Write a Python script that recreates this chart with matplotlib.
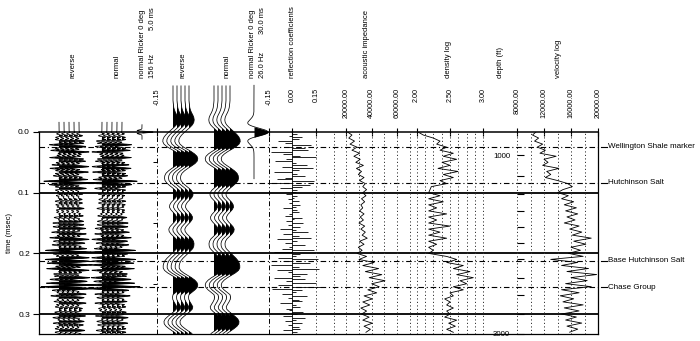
import numpy as np
import matplotlib
matplotlib.use("Agg")
import matplotlib.pyplot as plt
from matplotlib.transforms import blended_transform_factory

plt.rcParams['font.family'] = ['Liberation Sans', 'DejaVu Sans']
plt.rcParams['axes.linewidth'] = 0.8

# ---------------- well-log data (two-way time sampling) ----------------
log_t0, log_dt = 0.0, 0.005
impedance = [21000, 24500, 22000, 26500, 23000, 28500, 24500, 30500, 26000, 31000,
             27500, 33500, 28000, 32000, 29500, 34000, 30500, 35000, 33000, 36000,
             33000, 35500, 32000, 34500, 31500, 33000, 30500, 34000, 31000, 33500,
             30000, 34500, 31500, 35000, 32500, 36500, 30500, 34000, 29500, 32500,
             28500, 36000, 30000, 42000, 33000, 45500, 35000, 48000, 38000, 50500,
             40000, 46000, 37000, 44000, 34000, 40500, 33000, 38500, 31500, 36000,
             32000, 38000, 33000, 40500, 34000, 39000, 35500]
density = [2.02, 2.10, 2.25, 2.35, 2.30, 2.45, 2.35, 2.55, 2.40, 2.60,
           2.38, 2.50, 2.32, 2.62, 2.40, 2.55, 2.35, 2.45, 2.22, 2.20,
           2.18, 2.35, 2.18, 2.40, 2.18, 2.30, 2.18, 2.45, 2.18, 2.30,
           2.18, 2.50, 2.18, 2.35, 2.18, 2.45, 2.18, 2.30, 2.18, 2.25,
           2.18, 2.45, 2.60, 2.45, 2.70, 2.55, 2.80, 2.60, 2.85, 2.65,
           2.75, 2.55, 2.70, 2.50, 2.55, 2.42, 2.50, 2.45, 2.55, 2.45,
           2.50, 2.42, 2.60, 2.48, 2.58, 2.45, 2.55]
velocity = [10800, 10300, 11200, 10600, 11800, 11000, 12200, 11400, 13800, 12000,
            12600, 11800, 14200, 12400, 13000, 12200, 14000, 15500, 16200, 14800,
            14000, 15600, 14600, 16400, 15000, 16800, 15200, 17000, 15400, 16600,
            15000, 17200, 15800, 17600, 16200, 19000, 16400, 18200, 16000, 17400,
            15600, 17800, 13000, 17000, 14600, 18600, 15400, 19800, 16000, 18400,
            15200, 19000, 14600, 17200, 14400, 16400, 14800, 17800, 15000, 17200,
            14600, 16800, 15200, 17600, 15400, 17000, 15800]

# reflection coefficient series (3 ms sampling from t = 0)
rc_dt = 0.003
refl_coef = [0.00, 0.03, -0.02, 0.06, 0.04, -0.09, -0.05, 0.12, -0.03, 0.08,
             0.10, -0.14, -0.06, 0.05, 0.15, -0.04, -0.11, 0.02, 0.09, -0.07,
             0.13, 0.04, -0.12, 0.03, 0.08, -0.05, -0.10, 0.14, -0.16, 0.11,
             0.06, -0.08, 0.03, 0.02, -0.04, 0.03, 0.01, -0.03, 0.04, -0.02,
             0.05, 0.02, -0.06, 0.03, 0.04, -0.02, -0.05, 0.06, 0.01, -0.04,
             0.07, -0.03, 0.05, -0.08, 0.02, 0.10, -0.06, 0.04, 0.12, -0.10,
             0.03, -0.05, 0.08, -0.02, -0.07, 0.14, -0.12, 0.05, 0.02, -0.09,
             0.16, -0.06, 0.11, -0.14, 0.04, 0.17, -0.10, -0.03, 0.09, 0.05,
             -0.12, 0.08, -0.04, 0.15, -0.09, 0.20, -0.13, 0.06, 0.02, -0.07,
             0.09, -0.03, 0.04, 0.06, -0.08, 0.02, 0.05, -0.04, -0.02, 0.07,
             0.03, -0.06, 0.08, 0.02, -0.05, 0.06, -0.03, 0.04, 0.05, -0.06,
             0.03, -0.02]

# low-frequency (26 Hz) normal-polarity synthetic trace
lf_t0, lf_dt = -0.076, 0.004
lf_normal = [0.00, 0.00, 0.00, 0.00, 0.00, 0.00, 0.00,
             -0.02, -0.05, -0.08, -0.15, -0.25, -0.38, -0.48, -0.52, -0.48, -0.35, -0.12, 0.15,
             0.42, 0.68, 0.88, 1.00, 1.02, 0.90, 0.62, 0.22, -0.20, -0.55,
             -0.80, -0.88, -0.82, -0.60, -0.25, 0.12, 0.45, 0.70, 0.82, 0.85,
             0.80, 0.62, 0.35, 0.05, -0.22, -0.38, -0.40, -0.28, -0.05, 0.18,
             0.32, 0.35, 0.22, 0.00, -0.22, -0.35, -0.32, -0.15, 0.08, 0.30,
             0.42, 0.38, 0.20, -0.05, -0.30, -0.45, -0.50, -0.48, -0.38, -0.15,
             0.10, 0.35, 0.60, 0.80, 0.92, 0.98, 0.98, 0.85, 0.55, 0.15,
             -0.25, -0.58, -0.80, -0.88, -0.82, -0.60, -0.30, 0.00, 0.05, 0.02,
             -0.10, -0.25, -0.38, -0.32, -0.08, 0.22, 0.52, 0.78, 0.90, 0.88,
             0.70, 0.40, 0.05, -0.30, -0.55]

hf_freq_hz = 156.0
lf_freq_hz = 26.0

marker_names = ["Wellington Shale marker", "Hutchinson Salt",
                "Base Hutchinson Salt", "Chase Group"]
marker_times = [0.024, 0.084, 0.212, 0.256]

depth_ft = [1000, 1200, 1400, 1600, 1800, 2000, 2200, 2400, 2600, 2800, 3000]
depth_time = [0.038, 0.072, 0.103, 0.130, 0.157, 0.183, 0.210, 0.240, 0.268, 0.300, 0.333]
depth_labelled = [1000, 3000]

time_ticks = [0.0, 0.1, 0.2, 0.3]
rc_ticks = [-0.15, 0.00, 0.15]
imp_ticks = [20000, 40000, 60000]
den_ticks = [2.00, 2.50, 3.00]
vel_ticks = [8000, 12000, 16000, 20000]

# ---------------- derived sample axes ----------------
log_time = log_t0 + log_dt * np.arange(len(impedance))
rc_time = rc_dt * np.arange(len(refl_coef))
lf_time = lf_t0 + lf_dt * np.arange(len(lf_normal))
lf_normal = np.array(lf_normal)


def ricker(t, f):
    a = (np.pi * f * t) ** 2
    return (1 - 2 * a) * np.exp(-a)


T_MAX = 0.3328
hf_time = np.arange(-0.016, T_MAX, 0.0002)
hf_normal = np.zeros_like(hf_time)
for tk, r in zip(rc_time, refl_coef):
    hf_normal += r * ricker(hf_time - tk, hf_freq_hz)
hf_normal /= np.abs(hf_normal).max()

# ---------------- layout (pixel frame of a 700 x 341 canvas) ----------------
W, H = 700, 341
Y_TOP, Y_BOT = 132, 334
X_LEFT, X_RIGHT = 39, 598
fig = plt.figure(figsize=(W / 100, H / 100), dpi=100)

DOT = (0, (1.2, 2.4))
DASHDOT = (0, (5, 2.5, 1, 2.5))
FS_TICK = 5.2
FS_HEAD = 5.5


def add_track(x0, x1, xlim):
    ax = fig.add_axes([x0 / W, 1 - Y_BOT / H, (x1 - x0) / W, (Y_BOT - Y_TOP) / H])
    ax.set_xlim(*xlim)
    ax.set_ylim(T_MAX, 0)
    ax.patch.set_visible(False)
    for sp in ax.spines.values():
        sp.set_visible(False)
    ax.set_xticks([])
    ax.set_yticks([])
    return ax


def top_ticks(ax, ticks, labels):
    ax.xaxis.set_ticks_position('top')
    ax.set_xticks(ticks, labels, rotation=90, va='top', ha='center', fontsize=FS_TICK)
    ax.tick_params(axis='x', top=True, labeltop=True, bottom=False, labelbottom=False,
                   direction='inout', length=6, width=0.8, pad=28.5)


def wiggle(ax, t, amp, base, gain):
    x = base + gain * amp
    ax.plot(x, t, color='k', lw=0.55, clip_on=False, zorder=3)
    ax.fill_betweenx(t, base, x, where=x > base, interpolate=True,
                     color='k', lw=0, clip_on=False, zorder=3)


# outer frame and time axis
frame = fig.add_axes([X_LEFT / W, 1 - Y_BOT / H, (X_RIGHT - X_LEFT) / W, (Y_BOT - Y_TOP) / H])
frame.set_xlim(0, 1)
frame.set_ylim(T_MAX, 0)
frame.set_xticks([])
frame.set_yticks(time_ticks, [f"{v:.1f}" for v in time_ticks])
frame.tick_params(axis='y', length=4.5, width=0.8, pad=2, labelsize=6)
frame.set_ylabel("time (msec)", fontsize=FS_HEAD, labelpad=4)
for sp in frame.spines.values():
    sp.set_linewidth(0.9)
frame.spines['top'].set_linewidth(1.1)
for t in time_ticks[1:]:
    frame.axhline(t, color='k', lw=1.3, zorder=4)

fx = lambda px: (px - X_LEFT) / (X_RIGHT - X_LEFT)
blend = blended_transform_factory(frame.transAxes, frame.transData)
for name, t in zip(marker_names, marker_times):
    frame.plot([0, fx(601)], [t, t], color='k', lw=0.8, ls=DASHDOT,
               transform=blend, clip_on=False, zorder=4)
    frame.plot([fx(601), fx(607)], [t, t], color='k', lw=0.8,
               transform=blend, clip_on=False, zorder=4)
    frame.text(fx(608), t, name, transform=blend, fontsize=5.8,
               ha='left', va='center')

# --- high-frequency synthetics (pixel-offset units) ---
axA = add_track(X_LEFT, 157, (0, 118))
for base in [20, 25, 30, 35, 40]:
    wiggle(axA, hf_time, -hf_normal, base, 18)
for base in [63, 68, 73, 78, 83]:
    wiggle(axA, hf_time, hf_normal, base, 18)
hw_t = np.linspace(-0.012, 0.012, 200)
wiggle(axA, hw_t, ricker(hw_t, hf_freq_hz), 103, 11)

# --- low-frequency synthetics (amplitude units) ---
PX_AMP = 0.15 / 23.5
axB = add_track(157, 269, (-0.15, -0.15 + 112 * PX_AMP))
top_ticks(axB, [-0.15], ["-0.15"])
axB.axvline(-0.15, color='k', lw=0.7, ls=DASHDOT)
axB.set_yticks([0.05, 0.15, 0.25])
axB.tick_params(axis='y', left=True, labelleft=False, direction='out', length=3, width=0.7)
bx = lambda px: -0.15 + (px - 157) * PX_AMP
keep = lf_time <= T_MAX
for px in [173, 177, 181, 185, 189]:
    wiggle(axB, lf_time[keep], -lf_normal[keep], bx(px), 10 * PX_AMP)
for px in [214, 218, 222, 226, 230]:
    wiggle(axB, lf_time[keep], lf_normal[keep], bx(px), 10 * PX_AMP)
lw_t = np.linspace(-0.077, 0.077, 400)
wiggle(axB, lw_t, ricker(lw_t, lf_freq_hz), bx(254), 14 * PX_AMP)

# --- reflection coefficients ---
axC = add_track(269, 331, (-0.15, 0.246))
top_ticks(axC, rc_ticks, [f"{v:.2f}" for v in rc_ticks])
axC.axvline(-0.15, color='k', lw=0.7, ls=DASHDOT)
axC.axvline(0.15, color='0.2', lw=0.7, ls=DOT)
axC.axvline(0.0, color='k', lw=0.6)
axC.hlines(rc_time, 0, refl_coef, color='k', lw=0.6)

# --- acoustic impedance ---
axD = add_track(331, 415, (8000, 74100))
top_ticks(axD, imp_ticks, [f"{v:.2f}" for v in imp_ticks])
for g in range(10000, 80000, 10000):
    axD.axvline(g, color='0.2', lw=0.7, ls=DOT)
axD.plot(impedance, log_time, color='k', lw=0.6)

# --- density log ---
axE = add_track(415, 484, (1.975, 3.01))
top_ticks(axE, den_ticks, [f"{v:.2f}" for v in den_ticks])
for g in np.arange(2.0, 3.01, 0.125):
    axE.axvline(g, color='0.2', lw=0.7, ls=DOT)
axE.plot(density, log_time, color='k', lw=0.6)

# --- depth column ---
axF = add_track(484, 517, (0, 1))

# --- velocity log, with the depth scale on its left edge ---
axG = add_track(517, X_RIGHT, (8000, 20000))
top_ticks(axG, vel_ticks, [f"{v:.2f}" for v in vel_ticks])
for g in range(8000, 20001, 2000):
    axG.axvline(g, color='0.2', lw=0.7, ls=DOT)
axG.plot(velocity, log_time, color='k', lw=0.6)
axG.set_yticks(depth_time, [str(d) if d in depth_labelled else "" for d in depth_ft])
axG.tick_params(axis='y', left=True, labelleft=True, direction='in', length=5,
                width=0.8, pad=5, labelsize=FS_TICK + 0.5)


# column headings
def header(px, text, top=False):
    if top:
        fig.text(px / W, 1 - 7 / H, text, rotation=90, ha='center', va='top', fontsize=FS_HEAD)
    else:
        fig.text(px / W, 1 - 78 / H, text, rotation=90, ha='center', va='bottom', fontsize=FS_HEAD)


header(73, "reverse")
header(117, "normal")
header(142, "normal Ricker 0 deg")
header(152, "156 Hz")
header(152, "5.0 ms", top=True)
header(183, "reverse")
header(227, "normal")
header(253, "normal Ricker 0 deg")
header(263, "26.0 Hz")
header(263, "30.0 ms", top=True)
header(292, "reflection coefficients")
header(367, "acoustic impedance")
header(448, "density log")
header(500, "depth (ft)")
header(559, "velocity log")

fig.savefig("out.png", dpi=100)
